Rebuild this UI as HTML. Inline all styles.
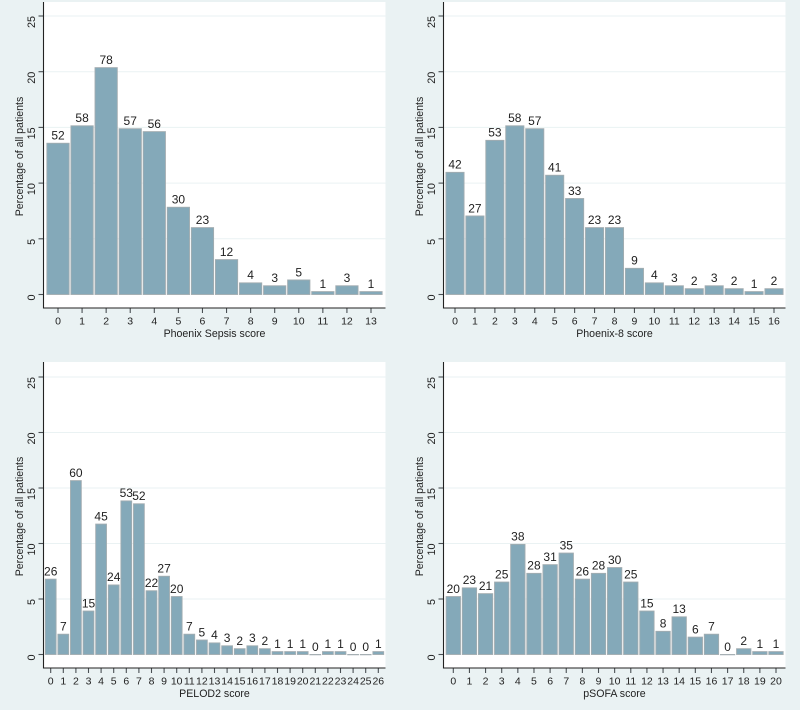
<!DOCTYPE html>
<html lang="en">
<head>
<meta charset="utf-8">
<title>Score distributions</title>
<style>
html,body{margin:0;padding:0;background:#fff}
svg{display:block;font-family:"Liberation Sans",Arial,sans-serif;filter:blur(0.3px)}
</style>
</head>
<body>
<svg id="chart" xmlns="http://www.w3.org/2000/svg" width="800" height="711" viewBox="0 0 800 711">
<rect x="0" y="0" width="800" height="710" fill="#eaf2f3"/>
</svg>
<script>
const totalPatients = 383;
const yTicks = [0, 5, 10, 15, 20, 25];
const sepsisCounts = [52, 58, 78, 57, 56, 30, 23, 12, 4, 3, 5, 1, 3, 1];
const phoenix8Counts = [42, 27, 53, 58, 57, 41, 33, 23, 23, 9, 4, 3, 2, 3, 2, 1, 2];
const pelod2Counts = [26, 7, 60, 15, 45, 24, 53, 52, 22, 27, 20, 7, 5, 4, 3, 2, 3, 2, 1, 1, 1, 0, 1, 1, 0, 0, 1];
const psofaCounts = [20, 23, 21, 25, 38, 28, 31, 35, 26, 28, 30, 25, 15, 8, 13, 6, 7, 0, 2, 1, 1];
const sepsisTitle = 'Phoenix Sepsis score';
const phoenix8Title = 'Phoenix-8 score';
const pelod2Title = 'PELOD2 score';
const psofaTitle = 'pSOFA score';
const yTitle = 'Percentage of all patients';

const svg = document.getElementById('chart');
const NS = 'http://www.w3.org/2000/svg';

function make(tag, attrs, parent, text) {
  const el = document.createElementNS(NS, tag);
  for (const k in attrs) el.setAttribute(k, attrs[k]);
  if (text !== undefined) el.textContent = text;
  parent.appendChild(el);
  return el;
}

function drawPanel(slug, counts, title, box) {
  const g = make('g', {}, svg);
  
  

  const xScale = i => box.firstX + i * (box.lastX - box.firstX) / (counts.length - 1);
  const yScale = p => box.zeroY - p * (box.zeroY - box.y25) / 25;
  const step = (box.lastX - box.firstX) / (counts.length - 1);

  const plot = make('rect', {x: box.left, y: box.top, width: box.right - box.left, height: box.bottom - box.top, fill: '#ffffff'}, g);
  
  

  yTicks.forEach(t => {
    if (t === 0) return;
    const grid = make('line', {x1: box.left, x2: box.right, y1: yScale(t), y2: yScale(t), stroke: '#eaf2f3', 'stroke-width': 1}, g);
    
    
  });

  counts.forEach((c, i) => {
    const pct = c / totalPatients * 100;
    const cx = xScale(i);
    const y = yScale(pct);
    const bar = make('rect', {x: cx - step / 2 + 0.9, y: y, width: step - 1.8, height: Math.max(yScale(0) - y, 0.3), fill: '#84a9b9', stroke: '#a2acb0', 'stroke-width': 0.9}, g);
    
    

    const label = make('text', {x: cx, y: y - 3.7, 'text-anchor': 'middle', 'font-size': 12, fill: '#1f1f1f'}, g, String(c));
    
    

    const tick = make('line', {x1: cx, x2: cx, y1: box.bottom, y2: box.bottom + 5, stroke: '#4a5054', 'stroke-width': 1.1}, g);
    
    

    const tickLabel = make('text', {x: cx, y: box.bottom + 16.3, 'text-anchor': 'middle', 'font-size': 10.5, fill: '#222222'}, g, String(i));
    
    
  });

  yTicks.forEach(t => {
    const y = yScale(t);
    const tick = make('line', {x1: box.left - 5, x2: box.left, y1: y, y2: y, stroke: '#4a5054', 'stroke-width': 1.1}, g);
    
    

    const tickLabel = make('text', {x: 0, y: 0, transform: 'translate(' + (box.left - 8.6) + ' ' + y + ') rotate(-90)', 'text-anchor': 'end', 'font-size': 10.8, fill: '#222222'}, g, String(t));
    
    
  });

  const yAxis = make('line', {x1: box.left, x2: box.left, y1: box.top, y2: box.bottom + 0.5, stroke: '#222222', 'stroke-width': 1.1}, g);
  
  

  const xAxis = make('line', {x1: box.left, x2: box.right, y1: box.bottom, y2: box.bottom, stroke: '#222222', 'stroke-width': 1.1}, g);
  
  

  const xTitle = make('text', {x: (box.left + box.right) / 2, y: box.bottom + 28.9, 'text-anchor': 'middle', 'font-size': 10.6, fill: '#222222'}, g, title);
  
  

  const yMid = (box.top + box.bottom) / 2 + 1.5;
  const yLabel = make('text', {x: 0, y: 0, transform: 'translate(' + (box.left - 20.3) + ' ' + yMid + ') rotate(-90)', 'text-anchor': 'middle', 'font-size': 10.6, fill: '#222222'}, g, yTitle);
  
  
}

drawPanel('phoenix-sepsis', sepsisCounts, sepsisTitle, {left: 43.5, right: 385.5, top: 2, bottom: 308, zeroY: 294.5, y25: 16, firstX: 58, lastX: 371});
drawPanel('phoenix-8', phoenix8Counts, phoenix8Title, {left: 443.5, right: 785.5, top: 2, bottom: 308, zeroY: 294.5, y25: 16, firstX: 455, lastX: 774});
drawPanel('pelod2', pelod2Counts, pelod2Title, {left: 43.5, right: 385.5, top: 362, bottom: 668, zeroY: 654.5, y25: 377, firstX: 50.7, lastX: 378.3});
drawPanel('psofa', psofaCounts, psofaTitle, {left: 443.5, right: 785.5, top: 362, bottom: 668, zeroY: 654.5, y25: 377, firstX: 453.3, lastX: 776});
</script>
</body>
</html>
